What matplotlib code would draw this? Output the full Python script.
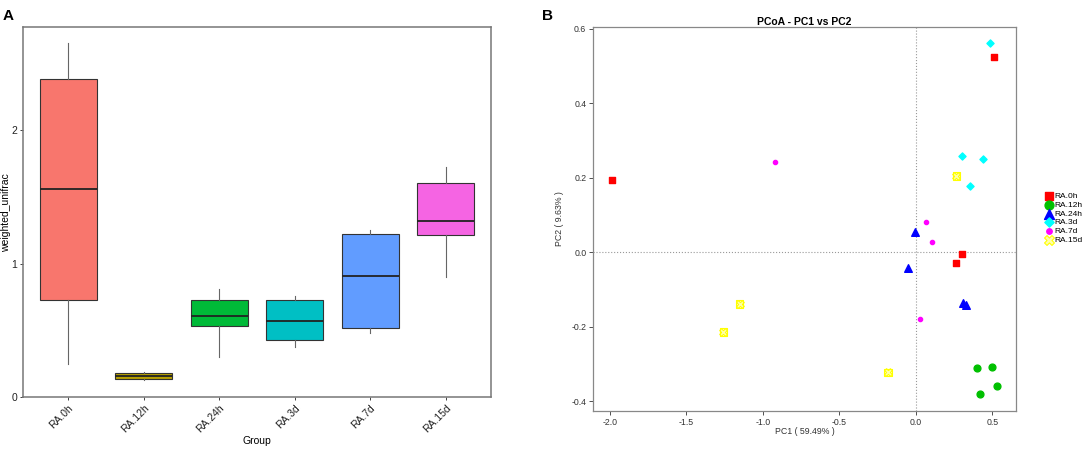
import matplotlib
matplotlib.use('Agg')
import matplotlib.pyplot as plt

plt.rcParams['font.family'] = ['Liberation Sans', 'DejaVu Sans']
plt.rcParams['axes.unicode_minus'] = False

# ─────────────────────────────────────────────
# Panel A data: box statistics (weighted_unifrac)
# ─────────────────────────────────────────────
groups = ['RA.0h', 'RA.12h', 'RA.24h', 'RA.3d', 'RA.7d', 'RA.15d']
box_colors = ['#F8766D', '#B79F00', '#00BA38', '#00BFC4', '#619CFF', '#F564E3']
whis_low = [0.25, 0.13, 0.30, 0.375, 0.48, 0.90]
q1 = [0.73, 0.14, 0.537, 0.43, 0.522, 1.213]
median = [1.56, 0.16, 0.607, 0.572, 0.904, 1.316]
q3 = [2.38, 0.185, 0.727, 0.727, 1.218, 1.603]
whis_high = [2.65, 0.19, 0.81, 0.759, 1.251, 1.72]

# ─────────────────────────────────────────────
# Panel B data: PCoA coordinates
# ─────────────────────────────────────────────
pc1_0h = [-1.987, 0.508, 0.303, 0.264]
pc2_0h = [0.193, 0.523, -0.004, -0.029]
pc1_12h = [0.399, 0.495, 0.527, 0.418]
pc2_12h = [-0.312, -0.308, -0.360, -0.380]
pc1_24h = [-0.009, -0.052, 0.305, 0.329]
pc2_24h = [0.055, -0.044, -0.138, -0.143]
pc1_3d = [0.481, 0.298, 0.438, 0.353]
pc2_3d = [0.560, 0.259, 0.251, 0.178]
pc1_7d = [-0.922, 0.068, 0.105, 0.026]
pc2_7d = [0.243, 0.081, 0.027, -0.180]
pc1_15d = [0.264, -1.153, -1.259, -0.181]
pc2_15d = [0.204, -0.140, -0.214, -0.323]

x_ticks = [-2.0, -1.5, -1.0, -0.5, 0.0, 0.5]
y_ticks = [-0.4, -0.2, 0.0, 0.2, 0.4, 0.6]

fig = plt.figure(figsize=(10.84, 4.49), dpi=100)

# ─────────────────────────────────────────────
# Panel A
# ─────────────────────────────────────────────
axA = fig.add_axes([0.0212, 0.115, 0.4318, 0.825])
stats = []
for i, g in enumerate(groups):
    stats.append({'label': g, 'whislo': whis_low[i], 'q1': q1[i], 'med': median[i],
                  'q3': q3[i], 'whishi': whis_high[i], 'fliers': []})
bp = axA.bxp(stats, widths=0.75, patch_artist=True, showcaps=False, showfliers=False,
             boxprops=dict(edgecolor='#333333', linewidth=0.8),
             medianprops=dict(color='#222222', linewidth=1.3),
             whiskerprops=dict(color='#666666', linewidth=0.8))
for patch, c in zip(bp['boxes'], box_colors):
    patch.set_facecolor(c)
axA.set_xlim(0.4, 6.6)
axA.set_ylim(0, 2.77)
axA.set_yticks([0, 1, 2])
axA.set_xticklabels(groups, rotation=45, ha='right', rotation_mode='anchor')
axA.tick_params(labelsize=7.5, colors='#222222', length=2.5, width=0.6, pad=1.5)
for t in axA.get_xticklines() + axA.get_yticklines():
    t.set_color('#777777')
for s in axA.spines.values():
    s.set_color('#777777')
    s.set_linewidth(1.1)
axA.set_xlabel('Group', fontsize=7.5, labelpad=1)
axA.set_ylabel('weighted_unifrac', fontsize=7.5)
axA.yaxis.set_label_coords(-0.025, 0.5)
fig.text(0.002, 0.965, 'A', fontsize=11, fontweight='bold', va='center')

# ─────────────────────────────────────────────
# Panel B
# ─────────────────────────────────────────────
axB = fig.add_axes([0.5473, 0.0853, 0.39, 0.8552])
axB.axvline(0, color='#999999', linestyle=':', linewidth=0.8, zorder=1)
axB.axhline(0, color='#999999', linestyle=':', linewidth=0.8, zorder=1)
axB.scatter(pc1_0h, pc2_0h, marker='s', s=24, color='#FF0000', label='RA.0h', zorder=3)
axB.scatter(pc1_12h, pc2_12h, marker='o', s=24, color='#00C000', label='RA.12h', zorder=3)
axB.scatter(pc1_24h, pc2_24h, marker='^', s=30, color='#0000FF', label='RA.24h', zorder=3)
axB.scatter(pc1_3d, pc2_3d, marker='D', s=13, color='#00FFFF', label='RA.3d', zorder=3)
axB.scatter(pc1_7d, pc2_7d, marker='o', s=9, color='#FF00FF', label='RA.7d', zorder=3)
axB.scatter(pc1_15d, pc2_15d, marker='X', s=30, facecolor='#FFFFAA', edgecolor='#FFFF00',
            linewidth=0.8, label='RA.15d', zorder=3)
axB.scatter(pc1_15d, pc2_15d, marker='s', s=30, facecolor='none', edgecolor='#FFFF00',
            linewidth=0.8, zorder=3)
axB.set_xlim(-2.109, 0.654)
axB.set_ylim(-0.426, 0.605)
axB.set_xticks(x_ticks)
axB.set_xticklabels([f'{v:.1f}' for v in x_ticks])
axB.set_yticks(y_ticks)
axB.set_yticklabels([f'{v:.1f}' for v in y_ticks])
axB.tick_params(labelsize=6.3, colors='#333333', length=3, width=0.6, pad=2)
for t in axB.get_xticklines() + axB.get_yticklines():
    t.set_color('#888888')
for s in axB.spines.values():
    s.set_color('#888888')
    s.set_linewidth(0.9)
axB.set_xlabel('PC1 ( 59.49% )', fontsize=6.3, color='#333333', labelpad=0)
axB.set_ylabel('PC2 ( 9.63% )', fontsize=6.3, color='#333333', labelpad=5)
axB.set_title('PCoA - PC1 vs PC2', fontsize=7.5, fontweight='bold', pad=1)
axB.legend(loc='upper left', bbox_to_anchor=(1.07, 0.568), frameon=False, fontsize=6,
           markerscale=1.3, handlelength=0.8, handletextpad=0.2, labelspacing=0.1,
           borderaxespad=0, borderpad=0)
fig.text(0.500, 0.965, 'B', fontsize=11, fontweight='bold', va='center')

fig.savefig('out.png', dpi=100)
